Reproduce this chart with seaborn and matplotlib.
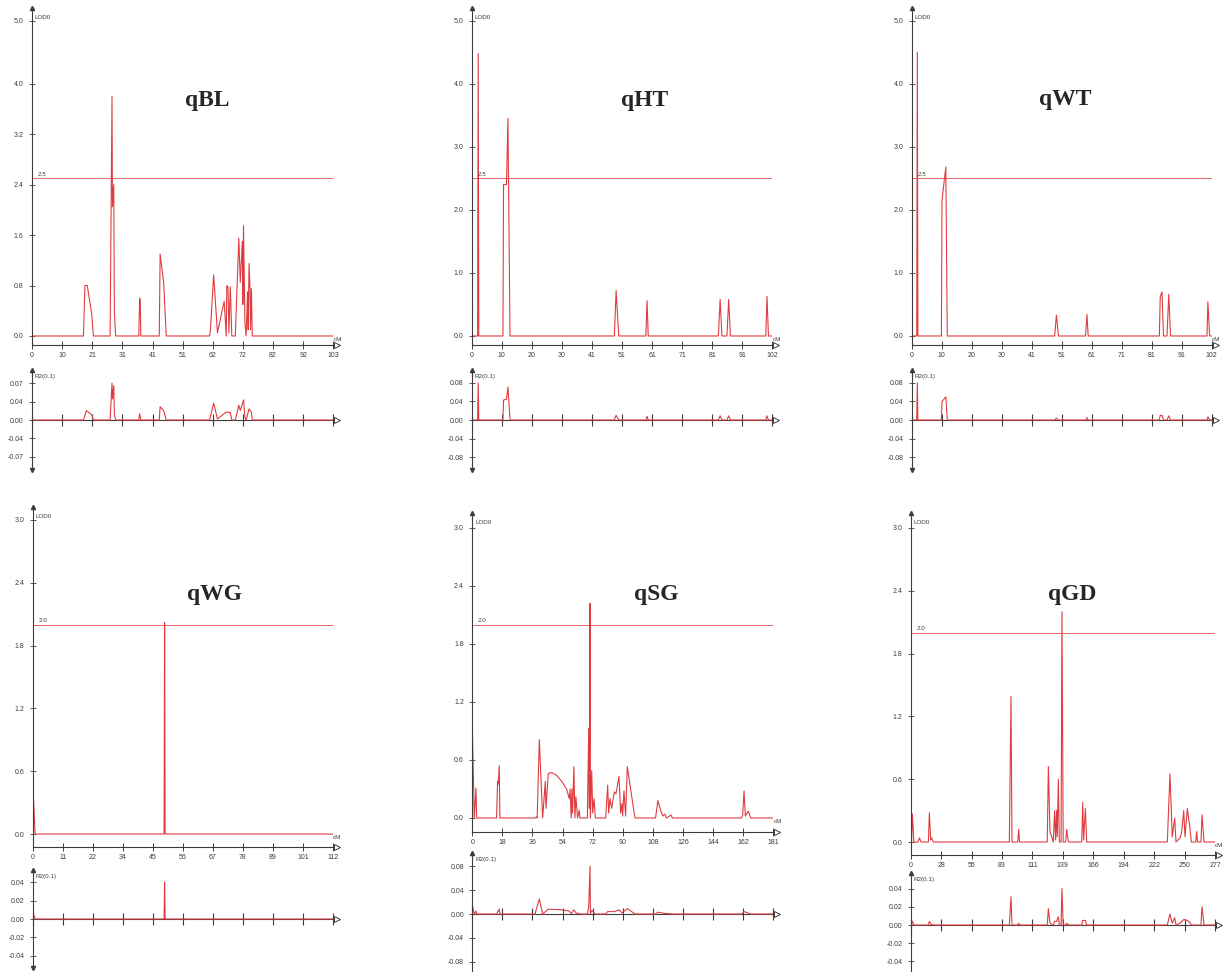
import matplotlib
matplotlib.use('Agg')
import numpy as np
import matplotlib.pyplot as plt
import matplotlib.transforms as mtransforms
import seaborn as sns

# ---- values (cM position, LOD / R2) ----
qbl_cm = [0, 17.6, 18.1, 18.9, 20.4, 21.0, 26.7, 27.35, 27.5, 27.95, 28.15, 28.6,
          36.5, 36.8, 37.0, 37.2, 43.5, 43.8, 45.0, 45.9,
          60.7, 61.0, 62.1, 63.4, 65.7, 66.4, 66.6, 67.0, 67.3, 67.8, 68.3,
          69.5, 70.7, 71.2, 71.9, 72.1, 72.3, 72.8, 73.2, 73.7, 73.9, 74.2, 74.5, 74.7, 75.0, 75.3, 103]
qbl_lod = [0, 0, 0.80, 0.80, 0.35, 0, 0, 3.80, 2.05, 2.40, 0.40, 0,
           0, 0.60, 0.55, 0, 0, 1.30, 0.85, 0,
           0, 0.10, 0.97, 0.05, 0.55, 0, 0.80, 0.78, 0.05, 0.78, 0,
           0, 1.55, 0.85, 1.50, 0.50, 1.75, 0.20, 0, 0.70, 0.10, 1.15, 0.80, 0.10, 0.75, 0, 0]
qbl_r2_cm = [0, 17.6, 18.6, 20.4, 21.0, 26.7, 27.35, 27.5, 27.95, 28.15, 28.6, 36.5, 36.8, 37.2,
             43.5, 43.8, 45.0, 45.9, 60.7, 62.1, 63.4, 65.7, 66.6, 67.8, 68.3,
             69.5, 70.7, 71.2, 72.3, 72.8, 73.2, 74.2, 75.0, 75.3, 103]
qbl_r2 = [0, 0, 0.018, 0.010, 0, 0, 0.070, 0.040, 0.065, 0.010, 0, 0, 0.012, 0,
          0, 0.025, 0.018, 0, 0, 0.032, 0.002, 0.012, 0.015, 0.014, 0,
          0, 0.028, 0.018, 0.038, 0.005, 0, 0.021, 0.015, 0, 0]

qht_cm = [0, 2.0, 2.2, 2.4, 10.6, 10.8, 11.8, 12.3, 13.0, 48.4, 49.0, 49.9, 59.1, 59.5, 59.9,
          83.7, 84.3, 84.9, 86.6, 87.2, 87.8, 99.8, 100.2, 100.7, 102]
qht_lod = [0, 0, 4.48, 0, 0, 2.40, 2.40, 3.45, 0, 0, 0.72, 0, 0, 0.56, 0,
           0, 0.58, 0, 0, 0.58, 0, 0, 0.63, 0, 0]
qht_r2 = [0, 0, 0.080, 0, 0, 0.043, 0.045, 0.071, 0, 0, 0.010, 0, 0, 0.008, 0,
          0, 0.009, 0, 0, 0.009, 0, 0, 0.009, 0, 0]

qwt_cm = [0, 1.7, 1.9, 2.1, 10.1, 10.3, 11.6, 12.1, 48.6, 49.2, 49.9, 59.1, 59.6, 60.0,
          84.2, 84.5, 85.1, 85.6, 86.8, 87.4, 88.0, 100.4, 100.7, 101.3, 102]
qwt_lod = [0, 0, 4.50, 0, 0, 2.15, 2.68, 0, 0, 0.33, 0, 0, 0.34, 0,
           0, 0.62, 0.70, 0, 0, 0.66, 0, 0, 0.54, 0, 0]
qwt_r2 = [0, 0, 0.080, 0, 0, 0.040, 0.050, 0, 0, 0.004, 0, 0, 0.005, 0,
          0, 0.010, 0.010, 0, 0, 0.009, 0, 0, 0.007, 0, 0]

qwg_cm = [0, 0.9, 49.0, 49.2, 49.4, 112]
qwg_lod = [0.50, 0, 0, 2.02, 0, 0]
qwg_r2 = [0.008, 0, 0, 0.040, 0, 0]

qsg_cm = [0, 1.2, 2.2, 2.6, 14.6, 15.2, 15.6, 16.2, 16.6,
          37.7, 38.5, 39.0, 40.3, 42.3, 43.9, 44.3, 45.7, 47.7, 50.7, 53.7, 56.7, 58.3, 58.8,
          59.5, 59.9, 60.3, 61.1, 61.7, 62.3, 63.3, 64.3, 64.7,
          69.2, 70.0, 70.4, 70.8, 71.0, 71.8, 72.4, 73.2, 74.0,
          80.2, 81.4, 82.0, 82.8, 83.8, 85.4, 86.4, 88.2, 89.2, 90.0, 90.4, 91.2, 92.2, 93.2, 97.8,
          110.2, 111.6, 113.6, 114.6, 115.7, 116.9, 119.5, 120.3,
          162.0, 162.6, 163.4, 164.2, 166.0, 167.4, 181]
qsg_lod = [0.94, 0, 0.31, 0, 0, 0.38, 0.35, 0.54, 0,
           0, 0.01, 0, 0.81, 0, 0.38, 0.10, 0.46, 0.47, 0.44, 0.38, 0.30, 0.20, 0.30,
           0, 0.30, 0.05, 0.53, 0, 0.22, 0, 0.08, 0,
           0, 0.93, 0.10, 2.22, 0, 0.49, 0.05, 0.20, 0,
           0, 0.34, 0.05, 0.20, 0.10, 0.27, 0.25, 0.43, 0.05, 0.15, 0.02, 0.28, 0.02, 0.53, 0,
           0, 0.18, 0.06, 0.02, 0.04, 0, 0.03, 0,
           0, 0.03, 0.28, 0.02, 0.07, 0, 0]
qsg_r2_cm = [0, 1.2, 2.2, 2.6, 14.6, 16.2, 16.6,
             37.7, 40.3, 42.3, 45.7, 53.7, 58.3, 59.5, 61.1, 62.3, 64.7,
             69.2, 70.0, 70.8, 71.0, 71.8, 74.0,
             80.2, 81.4, 85.4, 88.2, 90.0, 93.2, 97.8,
             110.2, 111.6, 115.7, 120.3, 162.0, 163.4, 167.4, 181]
qsg_r2 = [0.015, 0, 0.005, 0, 0, 0.008, 0,
          0, 0.025, 0, 0.008, 0.007, 0.005, 0, 0.007, 0.002, 0,
          0, 0.012, 0.080, 0, 0.006, 0,
          0, 0.004, 0.004, 0.007, 0.002, 0.009, 0,
          0, 0.003, 0.001, 0, 0, 0.004, 0, 0]

qgd_cm = [0, 0.8, 1.5, 2.9, 6.6, 7.9, 9.4, 16.1, 17.0, 18.2, 19.1, 20.6,
          89.8, 91.3, 92.2, 97.4, 98.3, 99.1,
          124.3, 125.3, 126.8, 128.3, 129.8, 131.0, 131.9, 132.8, 133.4, 134.4, 135.3, 136.9, 137.7, 138.8,
          141.0, 142.0, 143.6, 155.7, 156.6, 157.4, 159.0, 160.2,
          233.6, 236.0, 238.1, 240.3, 241.5, 245.2, 246.7, 248.5, 249.7, 251.8, 254.0, 255.5,
          259.5, 260.3, 261.2, 264.2, 265.2, 267.0, 277]
qgd_lod = [0, 0, 0.27, 0, 0, 0.04, 0, 0, 0.28, 0.02, 0.04, 0,
           0, 1.39, 0, 0, 0.12, 0,
           0, 0.72, 0.10, 0.05, 0, 0.30, 0.02, 0.30, 0.05, 0.60, 0, 0, 2.20, 0,
           0, 0.12, 0, 0, 0.38, 0.02, 0.32, 0,
           0, 0.65, 0.05, 0.23, 0, 0.04, 0.10, 0.30, 0.05, 0.32, 0.15, 0,
           0, 0.10, 0, 0, 0.26, 0, 0]
qgd_r2_cm = [0, 0.8, 1.5, 2.9, 16.1, 17.0, 18.2, 20.6, 89.8, 91.3, 92.2, 97.4, 98.3, 99.1,
             124.3, 125.3, 126.8, 129.8, 131.0, 132.8, 134.4, 135.3, 136.9, 137.7, 138.8,
             141.0, 142.0, 143.6, 155.7, 156.6, 159.0, 160.2,
             233.6, 236.0, 238.1, 240.3, 241.5, 245.2, 248.5, 251.8, 254.0, 255.5,
             264.2, 265.2, 267.0, 277]
qgd_r2 = [0, 0, 0.004, 0, 0, 0.004, 0.001, 0, 0, 0.031, 0, 0, 0.002, 0,
          0, 0.018, 0.002, 0, 0.004, 0.004, 0.009, 0, 0, 0.040, 0,
          0, 0.002, 0, 0, 0.005, 0.005, 0,
          0, 0.012, 0.002, 0.008, 0, 0.002, 0.006, 0.005, 0.003, 0,
          0, 0.020, 0, 0]

# tick labels
qbl_xlabels = ['0', '10', '21', '31', '41', '51', '62', '72', '82', '92', '103']
qht_xlabels = ['0', '10', '20', '30', '41', '51', '61', '71', '81', '91', '102']
qwt_xlabels = ['0', '10', '20', '30', '41', '51', '61', '71', '81', '91', '102']
qwg_xlabels = ['0', '11', '22', '34', '45', '56', '67', '78', '89', '101', '112']
qsg_xlabels = ['0', '18', '36', '54', '72', '90', '108', '126', '144', '162', '181']
qgd_xlabels = ['0', '28', '55', '83', '111', '139', '166', '194', '222', '250', '277']

lod_ticks_bl = [0, 0.8, 1.6, 2.4, 3.2, 4.0, 5.0]
lod_ticks_top = [0, 1.0, 2.0, 3.0, 4.0, 5.0]
lod_ticks_bot = [0, 0.6, 1.2, 1.8, 2.4, 3.0]
r2_ticks_bl = [-0.07, -0.035, 0, 0.035, 0.07]
r2_labels_bl = ['-0.07', '-0.04', '0.00', '0.04', '0.07']
r2_ticks_08 = [-0.08, -0.04, 0, 0.04, 0.08]
r2_ticks_04 = [-0.04, -0.02, 0, 0.02, 0.04]

sns.set_theme(style='white')
plt.rcParams['font.family'] = ['Liberation Sans', 'DejaVu Sans']

W, H = 1232, 972
RED = '#e03c40'
AXC = '#3c3c3c'


def rect(x0, x1, y0, y1):
    return [x0 / W, 1 - y1 / H, (x1 - x0) / W, (y1 - y0) / H]


panels = [
    dict(name='qBL', cm=qbl_cm, lod=qbl_lod, r2cm=qbl_r2_cm, r2=qbl_r2, xmax=103, xl=qbl_xlabels,
         lt=lod_ticks_bl, thr=2.5, rt=r2_ticks_bl, rl=r2_labels_bl,
         x0=32, x1=333.3, lpx=(8, 345), llim=(-0.143, 5.2), rpx=(370, 470), rlim=0.0946, t=(207, 106)),
    dict(name='qHT', cm=qht_cm, lod=qht_lod, r2cm=qht_cm, r2=qht_r2, xmax=102, xl=qht_xlabels,
         lt=lod_ticks_top, thr=2.5, rt=r2_ticks_08, rl=None,
         x0=471.7, x1=772.3, lpx=(8, 345), llim=(-0.143, 5.2), rpx=(370, 470), rlim=0.108, t=(645, 106)),
    dict(name='qWT', cm=qwt_cm, lod=qwt_lod, r2cm=qwt_cm, r2=qwt_r2, xmax=102, xl=qwt_xlabels,
         lt=lod_ticks_top, thr=2.5, rt=r2_ticks_08, rl=None,
         x0=911.7, x1=1211.7, lpx=(8, 345), llim=(-0.143, 5.2), rpx=(370, 470), rlim=0.108, t=(1065, 105)),
    dict(name='qWG', cm=qwg_cm, lod=qwg_lod, r2cm=qwg_cm, r2=qwg_r2, xmax=112, xl=qwg_xlabels,
         lt=lod_ticks_bot, thr=2.0, rt=r2_ticks_04, rl=None,
         x0=32.7, x1=333, lpx=(507, 847), llim=(-0.124, 3.124), rpx=(870, 968), rlim=0.053, t=(214, 600)),
    dict(name='qSG', cm=qsg_cm, lod=qsg_lod, r2cm=qsg_r2_cm, r2=qsg_r2, xmax=181, xl=qsg_xlabels,
         lt=lod_ticks_bot, thr=2.0, rt=r2_ticks_08, rl=None,
         x0=472.3, x1=773.3, lpx=(513, 832), llim=(-0.145, 3.155), rpx=(853, 975), rlim=0.1017, t=(656, 600)),
    dict(name='qGD', cm=qgd_cm, lod=qgd_lod, r2cm=qgd_r2_cm, r2=qgd_r2, xmax=277, xl=qgd_xlabels,
         lt=lod_ticks_bot, thr=2.0, rt=r2_ticks_04, rl=None,
         x0=910.7, x1=1215, lpx=(513, 855), llim=(-0.124, 3.143), rpx=(873, 977), rlim=0.057, t=(1072, 600)),
]

fig = plt.figure(figsize=(W / 100, H / 100), dpi=100)
fig.patch.set_facecolor('white')


def arrow_end(ax, y):
    # open arrowhead just past the right end of an axis line
    tr = mtransforms.offset_copy(ax.transAxes, fig=fig, x=4, y=0, units='dots')
    ax.plot(1, y, marker='>', ms=5, mfc='white', mec=AXC, mew=0.7, transform=tr, clip_on=False)


for p in panels:
    xt = np.linspace(0, p['xmax'], 11)

    # LOD profile
    ax = fig.add_axes(rect(p['x0'], p['x1'], *p['lpx']))
    ax.set_facecolor('none')
    sns.lineplot(x=p['cm'], y=p['lod'], ax=ax, color=RED, lw=0.8, sort=False, estimator=None)
    ax.axhline(p['thr'], color=RED, lw=0.7, alpha=0.8)
    ax.set_xlim(0, p['xmax'])
    ax.set_ylim(*p['llim'])
    ax.set_xlabel('')
    ax.set_ylabel('')
    sns.despine(ax=ax)
    for s in ('left', 'bottom'):
        ax.spines[s].set_color(AXC)
        ax.spines[s].set_linewidth(0.8)
    ax.spines['bottom'].set_bounds(0, p['xmax'])
    ax.set_xticks(xt)
    ax.set_xticklabels(p['xl'])
    ax.set_yticks(p['lt'])
    ax.set_yticklabels(['%.1f' % v for v in p['lt']])
    ax.tick_params(axis='x', direction='inout', length=6, width=0.7, colors=AXC,
                   labelsize=5, pad=2, bottom=True)
    ax.tick_params(axis='y', direction='inout', length=4, width=0.6, colors=AXC,
                   labelsize=5, pad=4, left=True)
    ax.plot(0, 1, marker='^', ms=3, color=AXC, transform=ax.transAxes, clip_on=False)
    arrow_end(ax, 0)
    ax.annotate('LOD0', xy=(0, 1), xycoords='axes fraction', xytext=(2, -7),
                textcoords='offset points', fontsize=4.5, color=AXC, va='center')
    ax.annotate('%.1f' % p['thr'], xy=(0, p['thr']), xytext=(4, 1),
                textcoords='offset points', fontsize=4.5, color=AXC, va='bottom')
    ax.annotate('cM', xy=(p['xmax'], 0), xytext=(0, -1), textcoords='offset points',
                fontsize=4.5, color=AXC, va='top', ha='left')

    # R2 profile
    ar = fig.add_axes(rect(p['x0'], p['x1'], *p['rpx']))
    ar.set_facecolor('none')
    sns.lineplot(x=p['r2cm'], y=p['r2'], ax=ar, color=RED, lw=0.8, sort=False, estimator=None)
    ar.set_xlim(0, p['xmax'])
    ar.set_ylim(-p['rlim'], p['rlim'])
    ar.set_xlabel('')
    ar.set_ylabel('')
    sns.despine(ax=ar)
    ar.spines['bottom'].set_position(('data', 0))
    ar.spines['bottom'].set_zorder(1)
    for s in ('left', 'bottom'):
        ar.spines[s].set_color(AXC)
        ar.spines[s].set_linewidth(0.8)
    ar.set_xticks(xt)
    ar.set_xticklabels([])
    ar.set_yticks(p['rt'])
    ar.set_yticklabels(p['rl'] if p['rl'] else ['%.2f' % v for v in p['rt']])
    ar.tick_params(axis='x', direction='inout', length=8, width=0.8, colors=AXC, bottom=True)
    ar.tick_params(axis='y', direction='inout', length=4, width=0.6, colors=AXC,
                   labelsize=5, pad=4, left=True)
    ar.plot(0, 1, marker='^', ms=3, color=AXC, transform=ar.transAxes, clip_on=False)
    ar.plot(0, 0, marker='v', ms=3, color=AXC, transform=ar.transAxes, clip_on=False)
    arrow_end(ar, 0.5)
    ar.annotate('R2(0.1)', xy=(0, 1), xycoords='axes fraction', xytext=(2, -5),
                textcoords='offset points', fontsize=4.5, color=AXC, va='center')

    fig.text(p['t'][0] / W, 1 - p['t'][1] / H, p['name'], ha='center', va='baseline',
             fontsize=17, fontweight='bold', family=['Liberation Serif', 'DejaVu Serif'])

fig.savefig('out.png', dpi=100, facecolor='white')
